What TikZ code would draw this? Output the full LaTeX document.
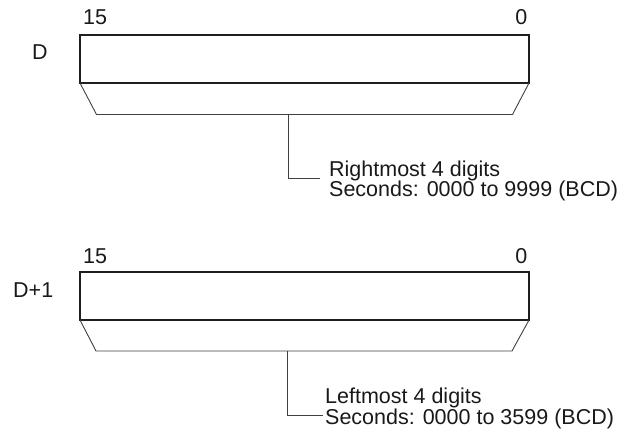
\documentclass[tikz,border=0pt]{standalone}
\usepackage{fontspec}
\setmainfont{Liberation Sans}
\begin{document}
\begin{tikzpicture}[x=1pt,y=-1pt,
  regbox/.style={draw=black!88,line width=2.6pt,minimum width=449pt,minimum height=48pt,anchor=north west,inner sep=0pt,outer sep=0pt},
  thin/.style={draw=black!75,line width=0.9pt},
  lbl/.style={font=\fontsize{21.5}{25}\selectfont,text=black!90,inner sep=0pt}]
\useasboundingbox (0,0) rectangle (621,433);
% ---- D ----
\node[regbox] (r0) at (80,35) {};
\node[lbl,anchor=base west] (b15a) at (83,25) {15};
\node[lbl,anchor=base east] (b0a) at (527.5,25) {0};
\node[lbl,anchor=base west] (da) at (32,60) {D};
\coordinate (t0l) at (96.5,114.5);
\coordinate (t0r) at (512.5,114.5);
\draw[thin] (r0.south west) -- (t0l) -- (t0r) -- (r0.south east);
\coordinate (s0) at (288.5,114.5);
\coordinate (e0) at (320,178.5);
\draw[thin] (s0) |- (e0);
\node[lbl,anchor=base west] (ta1) at (329,176) {Rightmost 4 digits};
\node[lbl,anchor=base west] (ta2) at (329,196.5) {Seconds: 0000 to 9999 (BCD)};
% ---- D+1 ----
\node[regbox] (r1) at (80,272) {};
\node[lbl,anchor=base west] (b15b) at (83,263) {15};
\node[lbl,anchor=base east] (b0b) at (527.5,263) {0};
\node[lbl,anchor=base west] (db) at (13,297) {D+1};
\coordinate (t1l) at (96,351);
\coordinate (t1r) at (512,351);
\draw[thin] (r1.south west) -- (t1l) -- (t1r) -- (r1.south east);
\coordinate (s1) at (287.7,351);
\coordinate (e1) at (323,415.5);
\draw[thin] (s1) |- (e1);
\node[lbl,anchor=base west] (tb1) at (325,403) {Leftmost 4 digits};
\node[lbl,anchor=base west] (tb2) at (325,424.5) {Seconds: 0000 to 3599 (BCD)};
\end{tikzpicture}
\end{document}
